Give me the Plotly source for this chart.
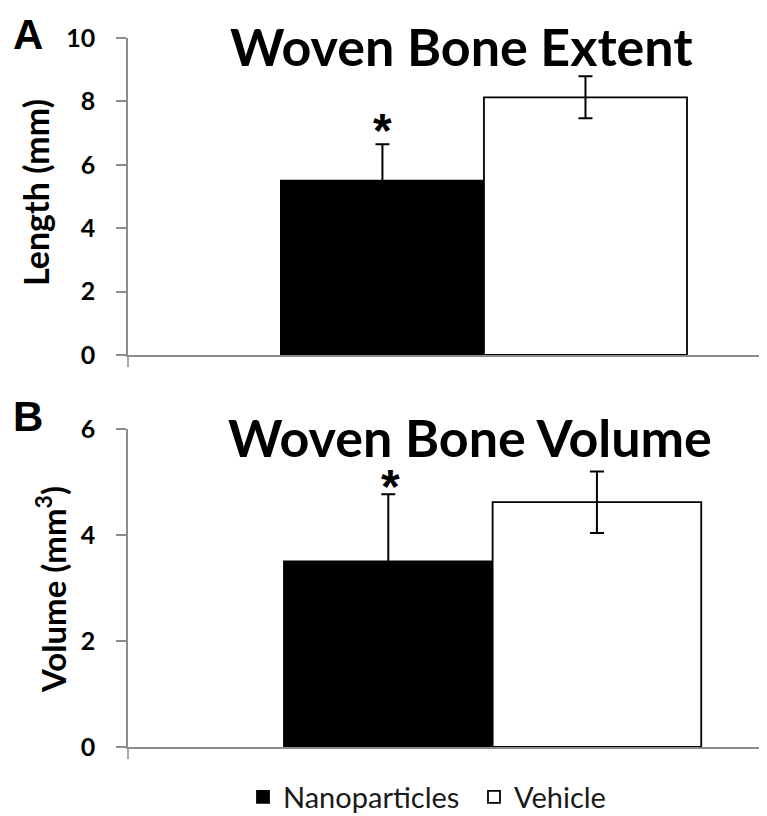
import plotly.graph_objects as go

# ---- data ----
groups = ["Nanoparticles", "Vehicle"]
category = ["Woven bone"]
extent_mean = [5.50, 8.13]
extent_err = [1.15, 0.66]
volume_mean = [3.50, 4.62]
volume_err = [1.27, 0.58]
extent_ticks = [0, 2, 4, 6, 8, 10]
volume_ticks = [0, 2, 4, 6]
fill_colors = ["#000000", "#ffffff"]

FONT = "Lato"
AXIS_GRAY = "#8c8c8c"

# page body has an 8px margin; figure is sized/positioned to compensate
OFF = 8
W, H = 767 - OFF, 816 - OFF


def px(x):
    return (x - OFF) / W


def py(y):
    return 1 - (y - OFF) / H


fig = go.Figure()

for panel, (means, errs, xa, ya) in enumerate([
    (extent_mean, extent_err, "x", "y"),
    (volume_mean, volume_err, "x2", "y2"),
]):
    for g, m, e, c in zip(groups, means, errs, fill_colors):
        fig.add_trace(go.Bar(
            x=category, y=[m], name=g,
            marker=dict(color=c, line=dict(color="black", width=1.8)),
            error_y=dict(type="data", array=[e], visible=True,
                         color="black", thickness=2, width=7),
            xaxis=xa, yaxis=ya,
            showlegend=(panel == 0),
            legendgroup=g,
        ))

yA = [py(355), py(38)]
yB = [py(747), py(429)]
xdom = [px(128), 1.0]

yaxis_common = dict(
    showline=True, linecolor=AXIS_GRAY, linewidth=1.5,
    ticks="outside", ticklen=10, tickcolor=AXIS_GRAY, tickwidth=1.5,
    showgrid=False, zeroline=False, automargin=False,
    tickfont=dict(family=FONT, size=25, color="black", weight="bold"),
    ticklabelstandoff=16,
)
xaxis_common = dict(
    showline=True, linecolor=AXIS_GRAY, linewidth=1.5,
    showticklabels=False, ticks="", showgrid=False, zeroline=False,
    type="category", automargin=False,
)

fig.update_layout(
    width=W, height=H,
    margin=dict(l=0, r=0, t=0, b=0, autoexpand=False),
    paper_bgcolor="white", plot_bgcolor="white",
    barmode="group", bargap=0.34, bargroupgap=0,
    xaxis=dict(domain=xdom, anchor="y", range=[-0.5785, 0.46], **xaxis_common),
    yaxis=dict(domain=yA, anchor="x", range=[0, 10], tickvals=extent_ticks, **yaxis_common),
    xaxis2=dict(domain=xdom, anchor="y2", range=[-0.5767, 0.434], **xaxis_common),
    yaxis2=dict(domain=yB, anchor="x2", range=[0, 6], tickvals=volume_ticks, **yaxis_common),
    legend=dict(
        orientation="h", x=px(243), y=py(797), xanchor="left", yanchor="middle",
        font=dict(family=FONT, size=29, color="#1a1a1a"),
        entrywidth=186, entrywidthmode="pixels", itemwidth=30,
        bgcolor="rgba(0,0,0,0)",
    ),
    font=dict(family=FONT, color="black"),
)

# axis extension below zero (Excel-style)
for dom in (yA, yB):
    fig.add_shape(type="line", xref="paper", yref="paper",
                  x0=xdom[0], x1=xdom[0], y0=dom[0], y1=dom[0] - 12 / H,
                  line=dict(color=AXIS_GRAY, width=1.5))

# titles
fig.add_annotation(text="Woven Bone Extent", xref="paper", yref="paper",
                   x=px(462), y=py(46.5), showarrow=False,
                   xanchor="center", yanchor="middle",
                   font=dict(family=FONT, size=52, color="black", weight="bold"))
fig.add_annotation(text="Woven Bone Volume", xref="paper", yref="paper",
                   x=px(470), y=py(436.5), showarrow=False,
                   xanchor="center", yanchor="middle",
                   font=dict(family=FONT, size=52, color="black", weight="bold"))

# panel letters
fig.add_annotation(text="A", xref="paper", yref="paper", x=px(28), y=py(34.5),
                   showarrow=False, xanchor="center", yanchor="middle",
                   font=dict(family="Liberation Sans", size=42, color="black", weight="bold"))
fig.add_annotation(text="B", xref="paper", yref="paper", x=px(28), y=py(416),
                   showarrow=False, xanchor="center", yanchor="middle",
                   font=dict(family="Liberation Sans", size=42, color="black", weight="bold"))

# y titles
fig.add_annotation(text="Length (mm)", xref="paper", yref="paper", x=px(36), y=py(193),
                   showarrow=False, textangle=-90, xanchor="center", yanchor="middle",
                   font=dict(family=FONT, size=34, color="black", weight="bold"))
fig.add_annotation(text="Volume (mm<sup>3</sup>)", xref="paper", yref="paper", x=px(51), y=py(590),
                   showarrow=False, textangle=-90, xanchor="center", yanchor="middle",
                   font=dict(family=FONT, size=33, color="black", weight="bold"))

# significance asterisks above Nanoparticles bars
fig.add_annotation(text="*", xref="x", yref="y", x=-0.165, y=extent_mean[0] + extent_err[0],
                   showarrow=False, yanchor="middle", yshift=14,
                   font=dict(family="Liberation Sans", size=48, color="black", weight="bold"))
fig.add_annotation(text="*", xref="x2", yref="y2", x=-0.162, y=volume_mean[0] + volume_err[0],
                   showarrow=False, yanchor="middle", yshift=8,
                   font=dict(family="Liberation Sans", size=48, color="black", weight="bold"))

fig.write_html("out.html")
